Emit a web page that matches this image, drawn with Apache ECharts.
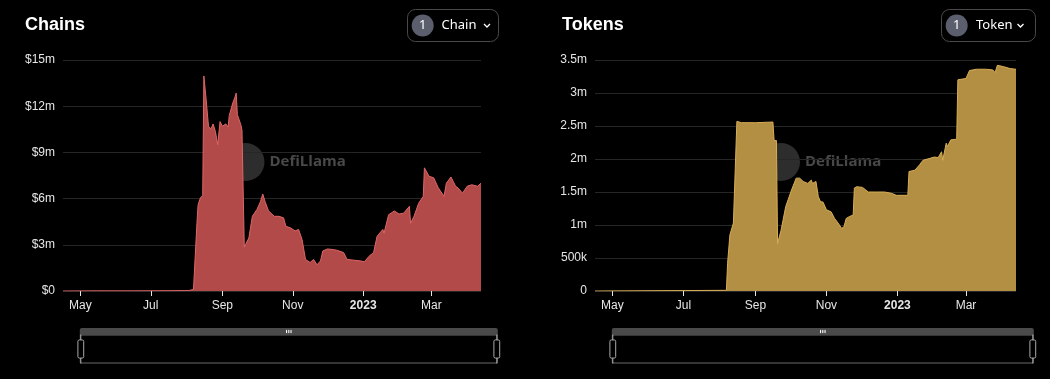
<!DOCTYPE html>
<html>
<head>
<meta charset="utf-8">
<script src="https://cdn.jsdelivr.net/npm/echarts@6/dist/echarts.min.js"></script>
<style>
html,body{margin:0;padding:0;background:#000;}
#c{width:1050px;height:379px;}
</style>
</head>
<body>
<div id="c"></div>
<script>
// ---- data (values in millions of USD / tokens) ----
var chainDates = ['2022-04-16','2022-05-15','2022-06-15','2022-07-15','2022-08-03','2022-08-07','2022-08-10','2022-08-11','2022-08-13','2022-08-15','2022-08-16','2022-08-18','2022-08-20','2022-08-22','2022-08-24','2022-08-26','2022-08-28','2022-08-30','2022-09-01','2022-09-04','2022-09-06','2022-09-07','2022-09-10','2022-09-12','2022-09-13','2022-09-14','2022-09-17','2022-09-18','2022-09-20','2022-09-21','2022-09-24','2022-09-27','2022-10-01','2022-10-04','2022-10-06','2022-10-08','2022-10-11','2022-10-16','2022-10-20','2022-10-24','2022-10-26','2022-10-30','2022-11-03','2022-11-06','2022-11-09','2022-11-12','2022-11-16','2022-11-19','2022-11-22','2022-11-25','2022-11-27','2022-12-01','2022-12-05','2022-12-09','2022-12-15','2022-12-18','2022-12-24','2022-12-30','2023-01-02','2023-01-06','2023-01-10','2023-01-13','2023-01-18','2023-01-19','2023-01-23','2023-01-28','2023-02-01','2023-02-05','2023-02-10','2023-02-11','2023-02-14','2023-02-18','2023-02-22','2023-02-23','2023-02-27','2023-03-03','2023-03-07','2023-03-12','2023-03-14','2023-03-18','2023-03-22','2023-03-24','2023-03-28','2023-04-01','2023-04-05','2023-04-10','2023-04-13'];
var chainValues = [0,0.01,0.01,0.02,0.03,0.1,4.4,5.6,6.05,6.2,13.96,12.4,10.7,10.5,10.85,10.35,9.5,11.0,10.7,10.85,10.65,11.4,12.2,12.6,12.85,11.45,10.8,10.45,2.85,3.0,3.45,4.85,5.3,5.8,6.3,5.8,5.2,4.85,4.85,4.75,4.2,4.1,3.9,4.0,3.35,2.05,1.85,2.05,1.7,1.95,2.6,2.73,2.7,2.65,2.5,2.05,2.0,1.95,1.9,2.25,2.5,3.55,4.0,3.75,4.95,5.2,5.0,5.05,5.5,4.4,4.85,5.7,6.15,8.0,7.45,7.35,6.7,6.15,7.0,7.4,6.8,6.7,6.35,6.8,6.9,6.8,7.0];

var tokenDates = ['2022-04-16','2022-08-07','2022-08-08','2022-08-10','2022-08-13','2022-08-14','2022-08-16','2022-08-20','2022-09-01','2022-09-16','2022-09-17','2022-09-19','2022-09-20','2022-09-23','2022-09-24','2022-09-27','2022-09-29','2022-10-02','2022-10-06','2022-10-09','2022-10-12','2022-10-16','2022-10-19','2022-10-20','2022-10-23','2022-10-25','2022-10-27','2022-10-29','2022-11-01','2022-11-05','2022-11-08','2022-11-11','2022-11-14','2022-11-16','2022-11-18','2022-11-21','2022-11-24','2022-11-25','2022-11-27','2022-12-02','2022-12-07','2022-12-14','2022-12-21','2022-12-27','2022-12-31','2023-01-10','2023-01-11','2023-01-16','2023-01-20','2023-01-23','2023-01-29','2023-02-02','2023-02-03','2023-02-05','2023-02-08','2023-02-09','2023-02-12','2023-02-13','2023-02-16','2023-02-21','2023-02-22','2023-03-01','2023-03-04','2023-03-10','2023-03-18','2023-03-24','2023-03-26','2023-03-28','2023-04-02','2023-04-08','2023-04-13'];
var tokenValues = [0,0.01,0.42,0.85,1.03,1.05,2.57,2.55,2.55,2.56,2.28,2.28,0.72,0.92,0.9,1.28,1.38,1.53,1.71,1.71,1.66,1.63,1.68,1.63,1.66,1.43,1.35,1.35,1.23,1.2,1.1,1.03,0.95,0.97,1.1,1.13,1.15,1.56,1.58,1.57,1.5,1.5,1.5,1.48,1.45,1.45,1.81,1.83,1.91,1.98,2.01,2.03,2.06,2.02,2.11,1.98,2.24,2.19,2.29,2.30,3.2,3.22,3.34,3.36,3.36,3.35,3.31,3.42,3.40,3.37,3.36];

var chainTicks = [0,3,6,9,12,15];
var tokenTicks = [0,0.5,1,1.5,2,2.5,3,3.5];
var titles = ['Chains','Tokens'];
var buttonLabels = ['Chain','Token'];

function pairs(d, v){ return d.map(function(x,i){ return [x, v[i]]; }); }

var chart = echarts.init(document.getElementById('c'), null, {renderer:'canvas'});
var labelColor = '#e6e6e6';
function xAxis(gi, dates){
  return {
    type:'time', gridIndex:gi, min: dates[0], max: dates[dates.length-1],
    splitNumber:5,
    axisLine:{show:false},
    axisTick:{show:true, length:5, lineStyle:{color:'#e6e6e6'}},
    splitLine:{show:false},
    axisLabel:{color:labelColor, fontSize:12, margin:9, fontFamily:'Liberation Sans, Arial, sans-serif', hideOverlap:true}
  };
}
function yAxis(gi, ticks, fmt){
  return {
    type:'value', gridIndex:gi, min:ticks[0], max:ticks[ticks.length-1], interval:ticks[1]-ticks[0],
    axisLine:{show:false}, axisTick:{show:false},
    splitLine:{lineStyle:{color:'#262626', width:1}},
    axisLabel:{color:labelColor, fontSize:12, margin:8, fontFamily:'Liberation Sans, Arial, sans-serif', formatter:fmt}
  };
}
function fmtChain(v){ return v === 0 ? '$0' : '$' + v + 'm'; }
function fmtToken(v){ if(v===0) return '0'; if(v<1) return Math.round(v*1000)+'k'; return v+'m'; }

function watermark(cx, cy){
  return {
    type:'group', z:100, silent:true,
    children:[
      {type:'circle', shape:{cx:cx, cy:cy, r:19}, style:{fill:'rgba(150,150,150,0.3)'}},
      {type:'rect', shape:{x:cx-17, y:cy-19, width:12, height:38, r:2}, style:{fill:'rgba(200,200,200,0.18)'}},
      {type:'text', style:{x:cx+24, y:cy, text:'DefiLlama', fill:'rgba(120,120,120,0.6)', font:'bold 15px "Open Sans", "DejaVu Sans", sans-serif', verticalAlign:'middle'}}
    ]
  };
}
function button(x, w, cx, tx, chevX, label){
  return {
    type:'group', children:[
      {type:'rect', shape:{x:x, y:9.5, width:w, height:32, r:8}, style:{fill:'#000', stroke:'#4a4a4a', lineWidth:1}},
      {type:'circle', shape:{cx:cx, cy:25.5, r:11}, style:{fill:'#5b5e6d'}},
      {type:'text', style:{x:cx, y:25.5, text:'1', fill:'#fff', font:'13px "Noto Sans", sans-serif', align:'center', verticalAlign:'middle'}},
      {type:'text', style:{x:tx, y:25.5, text:label, fill:'#fff', font:'13px "Noto Sans", sans-serif', verticalAlign:'middle'}},
      {type:'polyline', shape:{points:[[chevX-3,24],[chevX,27],[chevX+3,24]]}, style:{stroke:'#fff', lineWidth:1.3, fill:null}}
    ]
  };
}

var sliderCommon = {
  type:'slider', top:328, height:29, showDataShadow:false, showDetail:false,
  borderColor:'#6b6b6b', fillerColor:'rgba(0,0,0,0)', backgroundColor:'rgba(0,0,0,0)',
  handleStyle:{color:'#000', borderColor:'#aaaaaa', borderWidth:1},
  moveHandleSize:7,
  moveHandleStyle:{color:'#4a4a4a', opacity:1},
  brushSelect:true,
  dataBackground:{lineStyle:{opacity:0}, areaStyle:{opacity:0}},
  selectedDataBackground:{lineStyle:{opacity:0}, areaStyle:{opacity:0}}
};

var option = {
  backgroundColor:'#000',
  animation:false,
  grid:[
    {left:63, top:60, width:418, height:231},
    {left:595, top:60, width:421, height:231}
  ],
  xAxis:[xAxis(0, chainDates), xAxis(1, tokenDates)],
  yAxis:[yAxis(0, chainTicks, fmtChain), yAxis(1, tokenTicks, fmtToken)],
  dataZoom:[
    Object.assign({}, sliderCommon, {xAxisIndex:0, left:77, width:418}),
    Object.assign({}, sliderCommon, {xAxisIndex:1, left:609, width:422})
  ],
  series:[
    {type:'line', xAxisIndex:0, yAxisIndex:0, data:pairs(chainDates, chainValues), symbol:'none',
     lineStyle:{color:'#e06666', width:1}, itemStyle:{color:'#e06666'}, areaStyle:{color:'#b24a4a', opacity:1}},
    {type:'line', xAxisIndex:1, yAxisIndex:1, data:pairs(tokenDates, tokenValues), symbol:'none',
     lineStyle:{color:'#d8ad55', width:1}, itemStyle:{color:'#d8ad55'}, areaStyle:{color:'#b38f43', opacity:1}}
  ],
  graphic:[
    {type:'text', left:25, top:16, style:{text:titles[0], fill:'#fff', font:'bold 18px "Liberation Sans", Arial, sans-serif'}},
    {type:'text', left:562, top:16, style:{text:titles[1], fill:'#fff', font:'bold 18px "Liberation Sans", Arial, sans-serif'}},
    button(407.5, 91, 422.7, 441.5, 487, buttonLabels[0]),
    button(941.5, 94, 956.7, 976, 1020.5, buttonLabels[1]),
    watermark(245.5, 162),
    watermark(781, 162)
  ]
};
chart.setOption(option);
</script>
</body>
</html>
